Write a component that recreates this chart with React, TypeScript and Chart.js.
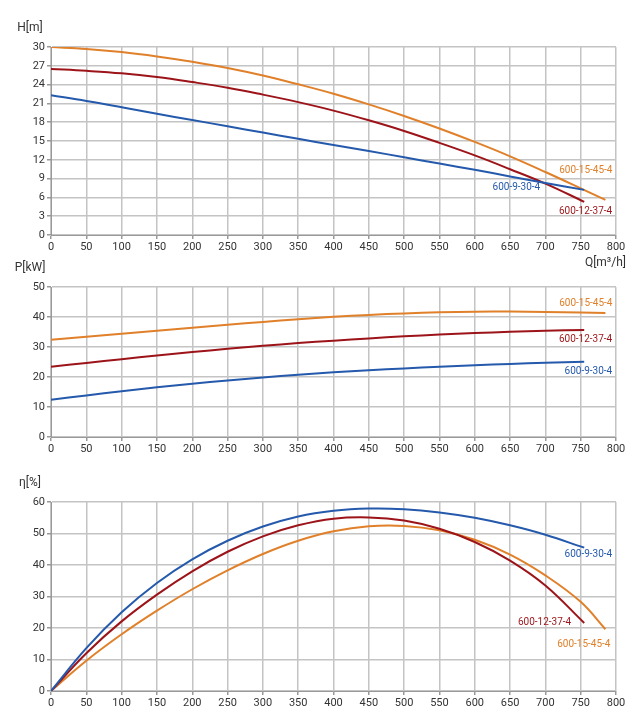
import { useEffect, useRef } from "react"
import { Chart, registerables } from "chart.js"

Chart.register(...registerables)

// flow points (m3/h) – blue / red curves stop near 755, orange runs to 785
const qShort = [0, 50, 100, 150, 200, 250, 300, 350, 400, 450, 500, 550, 600, 650, 700, 755]
const qLong = [0, 50, 100, 150, 200, 250, 300, 350, 400, 450, 500, 550, 600, 650, 700, 750, 785]

const seriesNames = ["600-9-30-4", "600-12-37-4", "600-15-45-4"]
const seriesColors = ["#2459ac", "#9c1419", "#e0802a"]

// head H[m]
const headBlue = [22.3, 21.4, 20.4, 19.35, 18.35, 17.35, 16.35, 15.35, 14.35, 13.4, 12.4, 11.4, 10.4, 9.35, 8.3, 7.2]
const headRed = [26.5, 26.2, 25.8, 25.2, 24.4, 23.5, 22.4, 21.2, 19.85, 18.3, 16.6, 14.7, 12.7, 10.5, 8.2, 5.3]
const headOrange = [30.0, 29.7, 29.2, 28.5, 27.65, 26.65, 25.45, 24.05, 22.55, 20.85, 19.0, 17.0, 14.85, 12.55, 10.05, 7.45, 5.6]

// power P[kW]
const powerBlue = [12.4, 13.85, 15.25, 16.55, 17.75, 18.85, 19.85, 20.75, 21.55, 22.25, 22.85, 23.4, 23.9, 24.35, 24.75, 25.1]
const powerRed = [23.4, 24.7, 25.95, 27.15, 28.3, 29.4, 30.4, 31.3, 32.1, 32.85, 33.55, 34.15, 34.65, 35.05, 35.4, 35.7]
const powerOrange = [32.4, 33.4, 34.4, 35.4, 36.4, 37.4, 38.35, 39.25, 40.05, 40.7, 41.2, 41.55, 41.75, 41.8, 41.7, 41.5, 41.35]

// efficiency η[%]
const effBlue = [0, 13.6, 25.0, 34.3, 41.8, 47.7, 52.2, 55.4, 57.2, 57.9, 57.7, 56.7, 55.0, 52.6, 49.6, 45.5]
const effRed = [0, 12.0, 22.1, 30.6, 38.0, 44.2, 49.1, 52.6, 54.7, 55.1, 54.1, 51.5, 47.3, 41.4, 33.5, 21.6]
const effOrange = [0, 9.6, 18.0, 25.5, 32.3, 38.3, 43.5, 47.7, 50.7, 52.3, 52.4, 51.0, 48.0, 43.3, 36.7, 28.3, 19.6]

const FONT = "Roboto, 'Noto Sans', sans-serif"

function toPoints(q: number[], vals: number[]) {
  return q.map((x, i) => ({ x, y: vals[i] }))
}

interface PanelProps {
  series: number[][]
  yMax: number
  yStep: number
  yName: string
  xName?: string
  labelOffsets: [number, number][]
  padTop: number
  padBottom: number
  top: number
  height: number
}

function Panel({ series, yMax, yStep, yName, xName, labelOffsets, padTop, padBottom, top, height }: PanelProps) {
  const canvasRef = useRef<HTMLCanvasElement>(null)

  useEffect(() => {
    if (!canvasRef.current) return
    const ctx = canvasRef.current.getContext("2d")
    if (!ctx) return

    // curve names next to curve ends + axis names
    const textPlugin = {
      id: "panelText",
      afterDatasetsDraw(chart: any) {
        const c = chart.ctx
        c.save()
        c.font = `10px ${FONT}`
        c.textBaseline = "middle"
        c.textAlign = "right"
        chart.data.datasets.forEach((ds: any, i: number) => {
          const meta = chart.getDatasetMeta(i)
          const last = meta.data[meta.data.length - 1]
          const [dx, dy] = labelOffsets[i]
          c.fillStyle = ds.borderColor
          c.fillText(ds.label, last.x + dx, last.y + dy)
        })
        c.fillStyle = "#333"
        c.font = `12px ${FONT}`
        c.textAlign = "center"
        c.fillText(yName, 30, chart.chartArea.top - 19)
        if (xName) {
          c.textAlign = "right"
          c.fillText(xName, 626, chart.chartArea.bottom + 28)
        }
        c.restore()
      },
    }

    const qs = [qShort, qShort, qLong]
    const chart = new Chart(ctx, {
      type: "line",
      data: {
        datasets: series.map((vals, i) => ({
          label: seriesNames[i],
          data: toPoints(qs[i], vals),
          borderColor: seriesColors[i],
          borderWidth: 2,
          pointRadius: 0,
          fill: false,
          tension: 0.4,
        })),
      },
      options: {
        animation: false,
        responsive: true,
        maintainAspectRatio: false,
        layout: {
          padding: { top: padTop, right: 16, bottom: padBottom, left: 0 },
        },
        plugins: {
          legend: { display: false },
          tooltip: { enabled: false },
        },
        scales: {
          x: {
            type: "linear",
            min: 0,
            max: 800,
            afterFit: (s: any) => {
              s.height = 20
            },
            grid: {
              color: "#c4c4c4",
              lineWidth: 1.5,
              tickLength: 4,
              tickColor: "#999",
            },
            border: { color: "#999", width: 1 },
            ticks: {
              stepSize: 50,
              color: "#333",
              padding: 2,
              maxRotation: 0,
              autoSkip: false,
              font: { family: FONT, size: 11 },
            },
          },
          y: {
            min: 0,
            max: yMax,
            afterFit: (s: any) => {
              s.width = 51
            },
            grid: {
              color: "#c4c4c4",
              lineWidth: 1.5,
              tickLength: 4,
              tickColor: "#999",
            },
            border: { color: "#999", width: 1 },
            ticks: {
              stepSize: yStep,
              color: "#333",
              padding: 2,
              font: { family: FONT, size: 11 },
            },
          },
        },
      },
      plugins: [textPlugin],
    })

    return () => {
      chart.destroy()
    }
  }, [])

  return (
    <div style={{ position: "absolute", left: 0, top, width: 632, height }}>
      <canvas ref={canvasRef} />
    </div>
  )
}

export default function App() {
  return (
    <div style={{ position: "absolute", left: 0, top: 0, width: 632, height: 725, background: "#fff" }}>
      <Panel
        series={[headBlue, headRed, headOrange]}
        yMax={30}
        yStep={3}
        yName="H[m]"
        xName="Q[m³/h]"
        labelOffsets={[[-44, -2], [28, 10], [7, -29]]}
        padTop={47}
        padBottom={20}
        top={0}
        height={275}
      />
      <Panel
        series={[powerBlue, powerRed, powerOrange]}
        yMax={50}
        yStep={10}
        yName="P[kW]"
        labelOffsets={[[28, 10], [28, 10], [7, -9]]}
        padTop={29}
        padBottom={1}
        top={258}
        height={200}
      />
      <Panel
        series={[effBlue, effRed, effOrange]}
        yMax={60}
        yStep={10}
        yName="η[%]"
        labelOffsets={[[28, 7], [-13, 0], [5, 15]]}
        padTop={42}
        padBottom={14}
        top={460}
        height={265}
      />
    </div>
  )
}
